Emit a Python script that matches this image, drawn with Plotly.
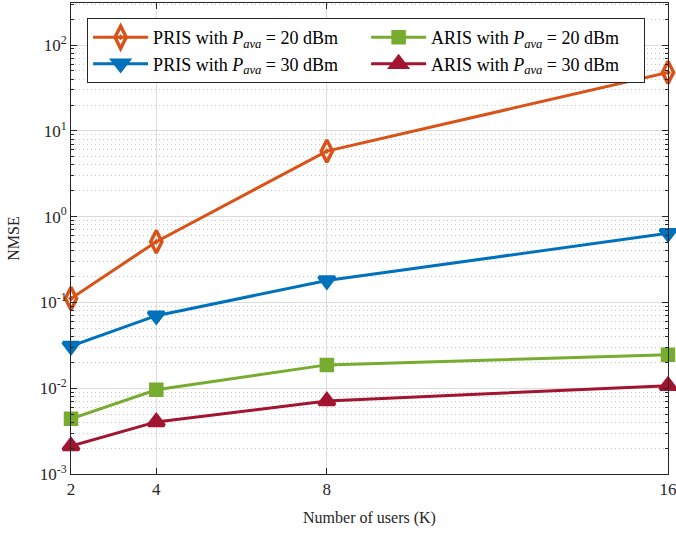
import plotly.graph_objects as go

users = [2, 4, 8, 16]
pris_20 = [0.111, 0.51, 5.8, 48.0]
pris_30 = [0.031, 0.070, 0.18, 0.64]
aris_20 = [0.0044, 0.0096, 0.0187, 0.0245]
aris_30 = [0.00212, 0.00405, 0.0071, 0.0107]

x_ticks = [2, 4, 8, 16]
y_tickvals = [1e-3, 1e-2, 1e-1, 1e0, 1e1, 1e2]
y_ticktext = ["10<sup>-3</sup>", "10<sup>-2</sup>", "10<sup>-1</sup>", "10<sup>0</sup>", "10<sup>1</sup>", "10<sup>2</sup>"]

P = "<i>P</i><sub><i>ava</i></sub>"
series = [
    ("PRIS with " + P + " = 20 dBm", pris_20, "#D95319", "diamond-tall-open-dot", 16),
    ("ARIS with " + P + " = 20 dBm", aris_20, "#77AC30", "square", 11),
    ("PRIS with " + P + " = 30 dBm", pris_30, "#0072BD", "triangle-down", 14),
    ("ARIS with " + P + " = 30 dBm", aris_30, "#A2142F", "triangle-up", 14),
]

fig = go.Figure()
for name, vals, color, sym, size in series:
    fig.add_trace(go.Scatter(
        x=users, y=vals, name=name, mode="lines+markers",
        line=dict(color=color, width=3),
        marker=dict(symbol=sym, size=size, color=color,
                    line=dict(color=color, width=3.5)),
        cliponaxis=False,
    ))

font = "Liberation Serif"
fig.update_layout(
    width=676, height=533,
    margin=dict(l=71, r=8, t=3, b=59, autoexpand=False),
    plot_bgcolor="white", paper_bgcolor="white",
    font=dict(family=font, size=16, color="#262626"),
    showlegend=True,
    legend=dict(
        orientation="h", x=0.027, y=0.968, xanchor="left", yanchor="top",
        bgcolor="white", bordercolor="#262626", borderwidth=1,
        font=dict(family=font, size=18, color="#000000"),
        entrywidth=208, itemwidth=55, tracegroupgap=0,
    ),
    xaxis=dict(
        range=[2, 16], tickvals=x_ticks, ticktext=[str(v) for v in x_ticks],
        showgrid=True, gridcolor="#dcdcdc", gridwidth=1,
        showline=True, linecolor="#262626", linewidth=1, mirror="allticks",
        ticks="inside", ticklen=6, tickcolor="#262626",
        tickfont=dict(size=17), zeroline=False, automargin=False,
        ticklabeloverflow="allow",
        title=dict(text="Number of users (K)", font=dict(size=16), standoff=13),
    ),
    yaxis=dict(
        type="log", range=[-3, 2.49],
        tickvals=y_tickvals, ticktext=y_ticktext,
        showgrid=True, gridcolor="#dcdcdc", gridwidth=1,
        showline=True, linecolor="#262626", linewidth=1, mirror="allticks",
        ticks="inside", ticklen=6, tickcolor="#262626",
        tickfont=dict(size=17), zeroline=False, automargin=False,
        ticklabeloverflow="allow",
        minor=dict(dtick="D1", showgrid=True, gridcolor="#c8c8c8",
                   griddash="1px,3px", ticks="inside", ticklen=3, tickcolor="#262626"),
        title=dict(text="NMSE", font=dict(size=16), standoff=16),
    ),
)

fig.write_html("out.html", config={"displayModeBar": False},
               post_script="document.body.style.margin='0';document.body.style.overflow='hidden';")
